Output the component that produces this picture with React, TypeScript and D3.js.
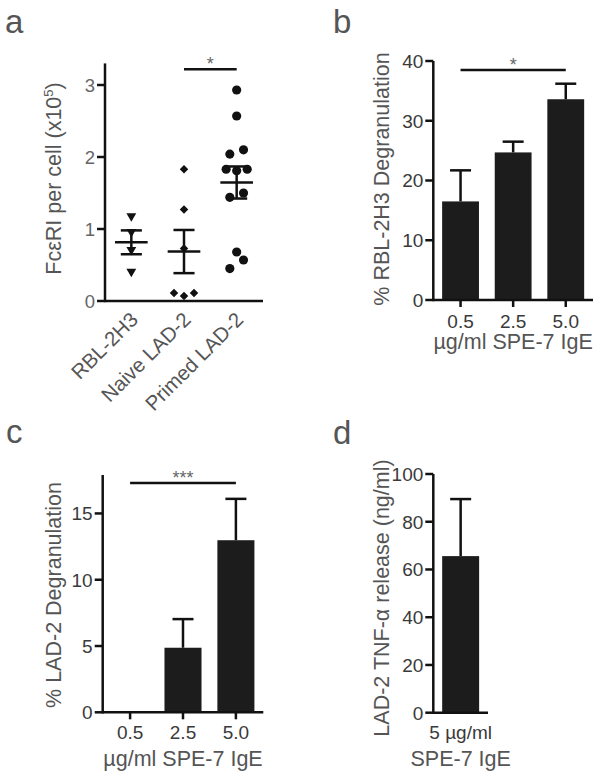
import React from 'react';
import * as d3 from 'd3';

const FONT = '"Liberation Sans", Arial, Helvetica, sans-serif';
const INK = '#111';
const TEXT = '#555';
const TICK_TEXT = '#3a3a3a';

// panel a: FceRI per cell (x10^5)
const cellGroups = ['RBL-2H3', 'Naive LAD-2', 'Primed LAD-2'];
const rblReceptors = [1.18, 0.96, 0.71, 0.41];
const rblJitter = [0, 0, 0, 0];
const naiveReceptors = [1.83, 1.27, 0.73, 0.11, 0.07, 0.11];
const naiveJitter = [0, 0, 0, -0.19, 0, 0.19];
const primedReceptors = [2.93, 2.57, 2.04, 2.1, 1.83, 1.81, 1.83, 1.44, 1.5, 0.68, 0.57, 0.45];
const primedJitter = [0, 0, -0.13, 0.13, -0.2, 0, 0.2, -0.13, 0.13, 0, 0.13, -0.13];
const receptorTicks = [0, 1, 2, 3];

// panel b: RBL-2H3 degranulation
const igeDoses = ['0.5', '2.5', '5.0'];
const rblDegran = [16.5, 24.7, 33.6];
const rblDegranSem = [5.2, 1.8, 2.6];
const rblTicks = [0, 10, 20, 30, 40];

// panel c: LAD-2 degranulation
const lad2Degran = [0, 4.87, 12.98];
const lad2DegranSem = [0, 2.16, 3.12];
const lad2Ticks = [0, 5, 10, 15];

// panel d: TNF-a release
const tnfDoses = ['5 µg/ml'];
const tnfRelease = [65.6];
const tnfSem = [23.9];
const tnfTicks = [0, 20, 40, 60, 80, 100];

type YProps = { scale: d3.ScaleLinear<number, number>; x: number; ticks: number[]; color: string; fontSize: number };

function YAxis({ scale, x, ticks, color, fontSize }: YProps) {
  const [y0, y1] = scale.range();
  return (
    <g>
      <line x1={x} x2={x} y1={y0 + 1.2} y2={y1} stroke={INK} strokeWidth={2.5} />
      {ticks.map((t) => (
        <g key={t}>
          <line x1={x - 8} x2={x} y1={scale(t)} y2={scale(t)} stroke={INK} strokeWidth={2.5} />
          <text x={x - 10} y={scale(t)} dy="0.36em" textAnchor="end" fontSize={fontSize} fill={color}>
            {t}
          </text>
        </g>
      ))}
    </g>
  );
}

function Sig({ x1, x2, y, label }: { x1: number; x2: number; y: number; label: string }) {
  return (
    <g>
      <line x1={x1} x2={x2} y1={y} y2={y} stroke={INK} strokeWidth={2.5} />
      <text x={(x1 + x2) / 2} y={y + 1} textAnchor="middle" fontSize={18} fill="#666">
        {label}
      </text>
    </g>
  );
}

function ScatterPanel() {
  const y = d3.scaleLinear().domain([0, 3.3]).range([301, 63.4]);
  const x = d3.scaleLinear().domain([-0.5, 2.5]).range([105, 263]);
  const groups = [
    { values: rblReceptors, jitter: rblJitter, shape: 'tri' },
    { values: naiveReceptors, jitter: naiveJitter, shape: 'dia' },
    { values: primedReceptors, jitter: primedJitter, shape: 'dot' },
  ];
  const tri = d3.symbol(d3.symbolTriangle, 42)()!;
  const dia = d3.symbol(d3.symbolSquare, 36)()!;
  const dot = d3.symbol(d3.symbolCircle, 66)()!;
  return (
    <g>
      <text x={5} y={33} fontSize={33} fill={TEXT}>a</text>
      <text transform={`translate(60.5,178.5) rotate(-90)`} textAnchor="middle" fontSize={21.5} fill={TEXT}>
        FcεRI per cell (x10<tspan dy="-8" fontSize={13}>5</tspan><tspan dy="8">)</tspan>
      </text>
      {groups.map((g, gi) => {
        const mean = d3.mean(g.values)!;
        const sem = d3.deviation(g.values)! / Math.sqrt(g.values.length);
        return (
          <g key={gi}>
            {g.values.map((v, i) => {
              const cx = x(gi + g.jitter[i]);
              const cy = y(v);
              const t =
                g.shape === 'tri'
                  ? `translate(${cx},${cy}) rotate(180)`
                  : g.shape === 'dia'
                  ? `translate(${cx},${cy}) rotate(45)`
                  : `translate(${cx},${cy})`;
              const d = g.shape === 'tri' ? tri : g.shape === 'dia' ? dia : dot;
              return <path key={i} d={d} transform={t} fill={INK} />;
            })}
            <line x1={x(gi)} x2={x(gi)} y1={y(mean - sem)} y2={y(mean + sem)} stroke={INK} strokeWidth={2.5} />
            <line x1={x(gi - 0.2)} x2={x(gi + 0.2)} y1={y(mean + sem)} y2={y(mean + sem)} stroke={INK} strokeWidth={2.5} />
            <line x1={x(gi - 0.2)} x2={x(gi + 0.2)} y1={y(mean - sem)} y2={y(mean - sem)} stroke={INK} strokeWidth={2.5} />
            <line x1={x(gi - 0.31)} x2={x(gi + 0.31)} y1={y(mean)} y2={y(mean)} stroke={INK} strokeWidth={2.5} />
          </g>
        );
      })}
      <line x1={105} x2={263} y1={y(0)} y2={y(0)} stroke={INK} strokeWidth={2.5} />
      <YAxis scale={y} x={105} ticks={receptorTicks} color="#666" fontSize={18.5} />
      {cellGroups.map((c, i) => (
        <text key={c} transform={`translate(${x(i) + 8},321) rotate(-45)`} textAnchor="end" fontSize={20.5} fill={TEXT}>
          {c}
        </text>
      ))}
      <Sig x1={x(1)} x2={x(2)} y={y(3.22)} label="*" />
    </g>
  );
}

type BarProps = {
  letter: string;
  letterX: number;
  letterY: number;
  left: number;
  right: number;
  bottom: number;
  top: number;
  yMax: number;
  cats: string[];
  values: number[];
  sems: number[];
  ticks: number[];
  xTickMarks: boolean;
  title: string;
  titleX: number;
  titleY: number;
  xLabelY: number;
  xTitle: string;
  xTitleY: number;
  sig?: { from: number; to: number; level: number; label: string };
};

function BarPanel(p: BarProps) {
  const y = d3.scaleLinear().domain([0, p.yMax]).range([p.bottom, p.top]);
  const x = d3.scaleBand<string>().domain(p.cats).range([p.left, p.right]).paddingInner(0.3).paddingOuter(0.168);
  const bw = x.bandwidth();
  const mid = (c: string) => x(c)! + bw / 2;
  return (
    <g>
      <text x={p.letterX} y={p.letterY} fontSize={33} fill={TEXT}>{p.letter}</text>
      <text transform={`translate(${p.titleX},${p.titleY}) rotate(-90)`} textAnchor="middle" fontSize={21.5} fill={TEXT}>
        {p.title}
      </text>
      {p.cats.map((c, i) => (
        <g key={c}>
          {p.values[i] > 0 && (
            <rect x={x(c)} y={y(p.values[i])} width={bw} height={y(0) - y(p.values[i])} fill="#1c1c1c" />
          )}
          {p.sems[i] > 0 && (
            <g>
              <line x1={mid(c)} x2={mid(c)} y1={y(p.values[i])} y2={y(p.values[i] + p.sems[i])} stroke={INK} strokeWidth={2.5} />
              <line x1={mid(c) - 10.5} x2={mid(c) + 10.5} y1={y(p.values[i] + p.sems[i])} y2={y(p.values[i] + p.sems[i])} stroke={INK} strokeWidth={2.5} />
            </g>
          )}
          {p.xTickMarks && <line x1={mid(c)} x2={mid(c)} y1={y(0)} y2={y(0) + 7} stroke={INK} strokeWidth={2.5} />}
          <text x={mid(c)} y={p.xLabelY} textAnchor="middle" fontSize={19} fill={TICK_TEXT}>{c}</text>
        </g>
      ))}
      <line x1={p.left} x2={p.right} y1={y(0)} y2={y(0)} stroke={INK} strokeWidth={2.5} />
      <YAxis scale={y} x={p.left} ticks={p.ticks} color={TICK_TEXT} fontSize={19} />
      <text x={(p.left + p.right) / 2} y={p.xTitleY} textAnchor="middle" fontSize={21.5} fill={TEXT}>{p.xTitle}</text>
      {p.sig && (
        <Sig x1={mid(p.cats[p.sig.from])} x2={mid(p.cats[p.sig.to])} y={y(p.sig.level)} label={p.sig.label} />
      )}
    </g>
  );
}

export default function App() {
  return (
    <svg width={601} height={779} style={{ position: 'absolute', left: 0, top: 0, background: '#fff', fontFamily: FONT }}>
      <ScatterPanel />
      <BarPanel
        letter="b" letterX={333} letterY={33}
        left={433.3} right={593} bottom={300} top={61} yMax={40}
        cats={igeDoses} values={rblDegran} sems={rblDegranSem} ticks={rblTicks} xTickMarks
        title="% RBL-2H3 Degranulation" titleX={389} titleY={179}
        xLabelY={328} xTitle="µg/ml SPE-7 IgE" xTitleY={349}
        sig={{ from: 0, to: 2, level: 38.5, label: '*' }}
      />
      <BarPanel
        letter="c" letterX={6} letterY={443}
        left={102.7} right={263.3} bottom={712.3} top={475} yMax={17.9}
        cats={igeDoses} values={lad2Degran} sems={lad2DegranSem} ticks={lad2Ticks} xTickMarks
        title="% LAD-2 Degranulation" titleX={61} titleY={595}
        xLabelY={739} xTitle="µg/ml SPE-7 IgE" xTitleY={766}
        sig={{ from: 0, to: 2, level: 17.3, label: '***' }}
      />
      <BarPanel
        letter="d" letterX={333} letterY={444}
        left={433.3} right={488} bottom={712.7} top={474} yMax={100}
        cats={tnfDoses} values={tnfRelease} sems={tnfSem} ticks={tnfTicks} xTickMarks={false}
        title="LAD-2 TNF-α release (ng/ml)" titleX={389} titleY={598}
        xLabelY={739} xTitle="SPE-7 IgE" xTitleY={766}
      />
    </svg>
  );
}
